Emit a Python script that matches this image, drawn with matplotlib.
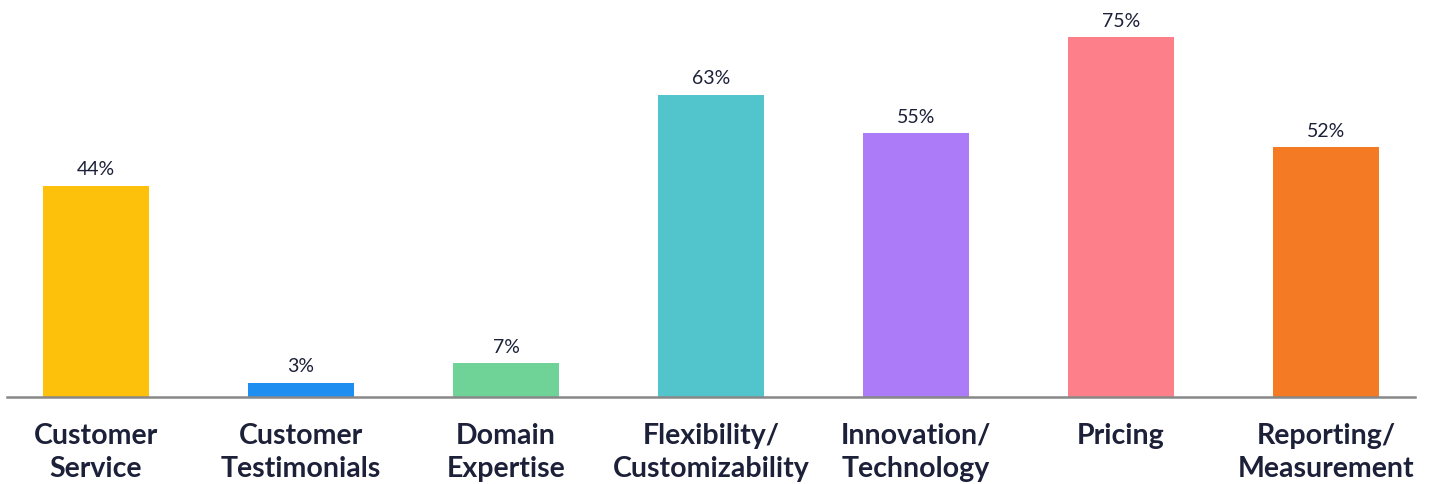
import matplotlib.pyplot as plt

# data
categories = ["Customer\nService", "Customer\nTestimonials", "Domain\nExpertise",
              "Flexibility/\nCustomizability", "Innovation/\nTechnology", "Pricing",
              "Reporting/\nMeasurement"]
values = [44, 3, 7, 63, 55, 75, 52]
colors = ["#FDC10C", "#1E8FF0", "#6FD297", "#52C5CC", "#AC7BF7", "#FC7F8A", "#F47A23"]

text_color = "#1C2038"
plt.rcParams['font.family'] = ['Lato', 'DejaVu Sans']

fig = plt.figure(figsize=(14.34, 4.85), dpi=100)
ax = fig.add_axes([7 / 1434, 87 / 485, 1408 / 1434, 384 / 485])

x = range(len(categories))
bars = ax.bar(x, values, width=0.517, color=colors)

# value labels above bars
for b, v in zip(bars, values):
    ax.annotate(f"{v}%", (b.get_x() + b.get_width() / 2, v),
                xytext=(0, 6), textcoords="offset points",
                ha="center", va="bottom", fontsize=14, color=text_color)

ax.set_xlim(-0.434, 6.434)
ax.set_ylim(0, 80)
ax.set_xticks(list(x))
ax.set_xticklabels(categories, fontsize=20.5, fontweight="bold", color=text_color,
                   linespacing=1.34)
ax.tick_params(axis="x", length=0, pad=18)
ax.set_yticks([])

for s in ["top", "right", "left"]:
    ax.spines[s].set_visible(False)
ax.spines["bottom"].set_color("#888888")
ax.spines["bottom"].set_linewidth(1.8)

fig.savefig("out.png", dpi=100)
